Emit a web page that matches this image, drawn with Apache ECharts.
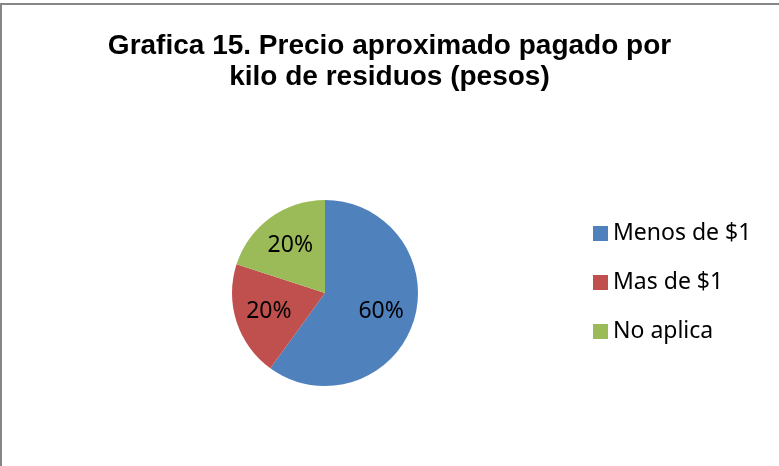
<!DOCTYPE html>
<html>
<head>
<meta charset="utf-8">
<title>Grafica 15</title>
<script src="https://cdn.jsdelivr.net/npm/echarts@6/dist/echarts.min.js"></script>
<style>
	body{margin:0;background:#fff;}
	#marco{position:absolute;left:0;top:3px;width:777px;height:463px;border-top:2px solid #868686;border-left:2px solid #868686;pointer-events:none;}
	#precio_kilo{position:absolute;left:0;top:0;width:779px;height:466px;}
</style>
</head>
<body>
<div id="precio_kilo"></div>
<div id="marco"></div>
<script>
/* datos de la grafica 15 */
var categorias = ['Menos de $1', 'Mas de $1', 'No aplica'];
var porcentajes = [60, 20, 20];
var colores = ['#4F81BD', '#C0504D', '#9BBB59'];

(function(){
	var myChart = echarts.init(document.getElementById("precio_kilo"));
	var datos = categorias.map(function(nombre, i){
		return {name: nombre, value: porcentajes[i], itemStyle: {color: colores[i]}};
	});
	var option = {
		backgroundColor: '#fff',
		animation: false,
		title: {
			text: 'Grafica 15. Precio aproximado pagado por\nkilo de residuos (pesos)',
			left: 'center',
			top: 26,
			textStyle: {
				fontFamily: 'Liberation Sans',
				fontWeight: 'bold',
				fontSize: 28,
				lineHeight: 31,
				color: '#000'
			}
		},
		legend: {
			orient: 'vertical',
			left: 593,
			top: 222,
			padding: 0,
			itemWidth: 15,
			itemHeight: 15,
			itemGap: 26,
			icon: 'rect',
			data: categorias,
			textStyle: {
				fontFamily: 'Noto Sans',
				fontSize: 23,
				lineHeight: 22,
				color: '#000'
			}
		},
		series: [
			{
				name: 'Precio',
				type: 'pie',
				center: [325, 293],
				radius: [0, 93],
				startAngle: 90,
				clockwise: true,
				label: {show: false},
				labelLine: {show: false},
				itemStyle: {borderWidth: 0},
				emphasis: {disabled: true},
				data: datos
			},
			{
				// serie transparente solo para colocar las etiquetas
				name: 'Etiquetas',
				type: 'pie',
				center: [325, 293],
				radius: [0, 112],
				startAngle: 90,
				clockwise: true,
				silent: true,
				emphasis: {disabled: true},
				itemStyle: {color: 'rgba(0,0,0,0)', borderWidth: 0},
				label: {
					show: true,
					position: 'inside',
					formatter: '{c}%',
					fontFamily: 'Noto Sans',
					fontSize: 23,
					color: '#000'
				},
				labelLine: {show: false},
				data: porcentajes.map(function(v, i){
					return {name: categorias[i], value: v};
				})
			}
		]
	};
	myChart.setOption(option);
})();
</script>
</body>
</html>
